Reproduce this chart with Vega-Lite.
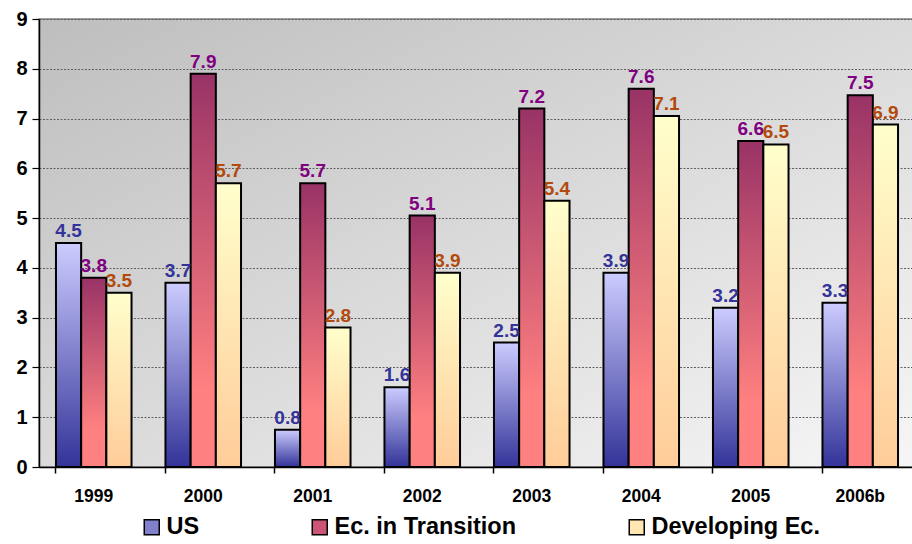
{
  "$schema": "https://vega.github.io/schema/vega-lite/v6.json",
  "autosize": "none",
  "width": 876,
  "height": 448,
  "padding": {"left": 39, "top": 19, "right": 0, "bottom": 77},
  "background": "white",
  "config": {
    "font": "Liberation Sans",
    "view": {
      "stroke": "#808080",
      "strokeWidth": 1.5,
      "fill": {"gradient": "linear", "x1": 0, "y1": 0, "x2": 1, "y2": 1, "stops": [{"offset": 0, "color": "#bebebe"}, {"offset": 1, "color": "#f6f6f6"}]}
    }
  },
  "data": {
    "values": [
      {"year": "1999", "series": "US", "value": 4.5, "label": "4.5"},
      {"year": "1999", "series": "Ec. in Transition", "value": 3.8, "label": "3.8"},
      {"year": "1999", "series": "Developing Ec.", "value": 3.5, "label": "3.5"},
      {"year": "2000", "series": "US", "value": 3.7, "label": "3.7"},
      {"year": "2000", "series": "Ec. in Transition", "value": 7.9, "label": "7.9"},
      {"year": "2000", "series": "Developing Ec.", "value": 5.7, "label": "5.7"},
      {"year": "2001", "series": "US", "value": 0.75, "label": "0.8"},
      {"year": "2001", "series": "Ec. in Transition", "value": 5.7, "label": "5.7"},
      {"year": "2001", "series": "Developing Ec.", "value": 2.8, "label": "2.8"},
      {"year": "2002", "series": "US", "value": 1.6, "label": "1.6"},
      {"year": "2002", "series": "Ec. in Transition", "value": 5.05, "label": "5.1"},
      {"year": "2002", "series": "Developing Ec.", "value": 3.9, "label": "3.9"},
      {"year": "2003", "series": "US", "value": 2.5, "label": "2.5"},
      {"year": "2003", "series": "Ec. in Transition", "value": 7.2, "label": "7.2"},
      {"year": "2003", "series": "Developing Ec.", "value": 5.35, "label": "5.4"},
      {"year": "2004", "series": "US", "value": 3.9, "label": "3.9"},
      {"year": "2004", "series": "Ec. in Transition", "value": 7.6, "label": "7.6"},
      {"year": "2004", "series": "Developing Ec.", "value": 7.05, "label": "7.1"},
      {"year": "2005", "series": "US", "value": 3.2, "label": "3.2"},
      {"year": "2005", "series": "Ec. in Transition", "value": 6.55, "label": "6.6"},
      {"year": "2005", "series": "Developing Ec.", "value": 6.48, "label": "6.5"},
      {"year": "2006b", "series": "US", "value": 3.3, "label": "3.3"},
      {"year": "2006b", "series": "Ec. in Transition", "value": 7.47, "label": "7.5"},
      {"year": "2006b", "series": "Developing Ec.", "value": 6.88, "label": "6.9"}
    ]
  },
  "encoding": {
    "x": {
      "field": "year", "type": "nominal", "sort": null,
      "scale": {"paddingInner": 0.31, "paddingOuter": 0.155},
      "axis": {
        "title": null, "labelAngle": 0, "labelFont": "Liberation Sans", "labelFontSize": 17.5, "labelFontWeight": "bold",
        "labelColor": "black", "domainColor": "black", "domainWidth": 1.5, "tickColor": "black", "tickWidth": 1.5,
        "tickSize": 6, "bandPosition": 0, "labelPadding": 14
      }
    },
    "xOffset": {"field": "series", "type": "nominal", "scale": {"domain": ["US", "Ec. in Transition", "Developing Ec."]}},
    "y": {
      "field": "value", "type": "quantitative",
      "scale": {"domain": [0, 9], "nice": false},
      "axis": {
        "title": null, "values": [0, 1, 2, 3, 4, 5, 6, 7, 8, 9],
        "labelFontSize": 20, "labelFontWeight": "bold", "labelColor": "black", "labelPadding": 5,
        "domainColor": "black", "domainWidth": 1.5, "tickColor": "black", "tickWidth": 1.2, "tickSize": 7,
        "grid": true, "gridColor": "#606060", "gridDash": [2, 1.5], "gridWidth": 1
      }
    }
  },
  "layer": [
    {
      "mark": {"type": "square", "opacity": 0, "size": 1},
      "encoding": {
        "y": {"datum": 0},
        "color": {
          "field": "series", "type": "nominal",
          "scale": {"domain": ["US", "Ec. in Transition", "Developing Ec."], "range": ["#8080cc", "#cc5577", "#ffe6b3"]},
          "legend": {
            "title": null, "orient": "none", "legendX": 101, "legendY": 496, "direction": "horizontal",
            "columns": 3, "columnPadding": 108, "symbolType": "square", "symbolSize": 225,
            "labelFontSize": 23.5, "labelFontWeight": "bold",
            "labelColor": "black", "labelOffset": 3, "labelLimit": 300,
            "encode": {
              "symbols": {
                "update": {
                  "opacity": {"value": 1},
                  "size": {"value": 225},
                  "stroke": {"value": "black"},
                  "strokeWidth": {"value": 1.5},
                  "fill": {"signal": "datum.value === 'US' ? {gradient: 'linear', x1: 0, y1: 0, x2: 0, y2: 1, stops: [{offset: 0, color: '#ccccff'}, {offset: 1, color: '#333399'}]} : datum.value === 'Ec. in Transition' ? {gradient: 'linear', x1: 0, y1: 0, x2: 0, y2: 1, stops: [{offset: 0, color: '#993366'}, {offset: 1, color: '#ff8080'}]} : {gradient: 'linear', x1: 0, y1: 0, x2: 0, y2: 1, stops: [{offset: 0, color: '#ffffcc'}, {offset: 1, color: '#ffcc99'}]}"}
                }
              }
            }
          }
        }
      }
    },
    {
      "transform": [{"filter": "datum.series === 'US'"}],
      "mark": {"type": "bar", "stroke": "black", "strokeWidth": 2,
        "fill": {"gradient": "linear", "x1": 0, "y1": 0, "x2": 0, "y2": 1, "stops": [{"offset": 0, "color": "#ccccff"}, {"offset": 1, "color": "#333399"}]}}
    },
    {
      "transform": [{"filter": "datum.series === 'Ec. in Transition'"}],
      "mark": {"type": "bar", "stroke": "black", "strokeWidth": 2,
        "fill": {"gradient": "linear", "x1": 0, "y1": 0, "x2": 0, "y2": 1, "stops": [{"offset": 0, "color": "#993366"}, {"offset": 0.8, "color": "#ff8080"}, {"offset": 1, "color": "#ff8080"}]}}
    },
    {
      "transform": [{"filter": "datum.series === 'Developing Ec.'"}],
      "mark": {"type": "bar", "stroke": "black", "strokeWidth": 2,
        "fill": {"gradient": "linear", "x1": 0, "y1": 0, "x2": 0, "y2": 1, "stops": [{"offset": 0, "color": "#ffffcc"}, {"offset": 1, "color": "#ffcc99"}]}}
    },
    {
      "mark": {"type": "text", "baseline": "bottom", "dy": -2, "fontSize": 19, "fontWeight": "bold"},
      "encoding": {
        "text": {"field": "label"},
        "fill": {
          "field": "series", "type": "nominal",
          "scale": {"domain": ["US", "Ec. in Transition", "Developing Ec."], "range": ["#333399", "#800080", "#b34a0c"]},
          "legend": null
        }
      }
    }
  ]
}
